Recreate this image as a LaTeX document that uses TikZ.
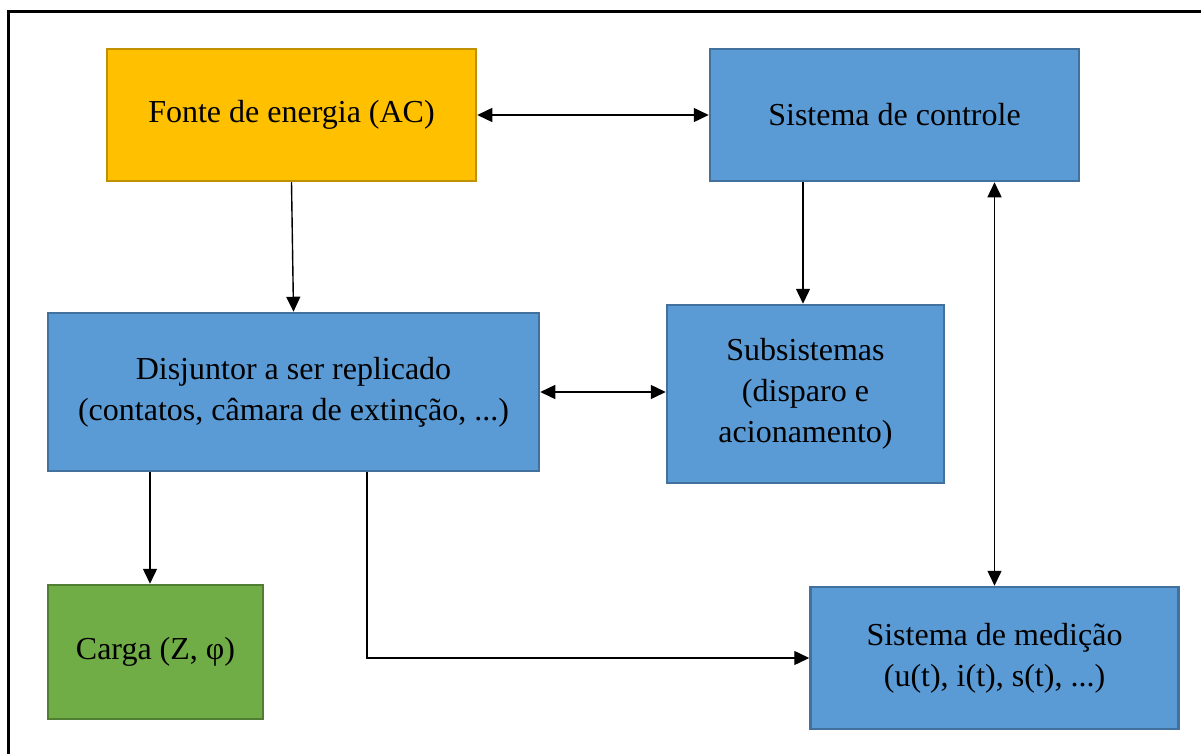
\documentclass[tikz,border=0pt]{standalone}
\usepackage{fontspec}
\setmainfont{Liberation Serif}
\usetikzlibrary{arrows.meta}
\definecolor{fillY}{HTML}{FFC000}
\definecolor{edgeY}{HTML}{BF9000}
\definecolor{fillB}{HTML}{5B9BD5}
\definecolor{edgeB}{HTML}{41719C}
\definecolor{fillG}{HTML}{70AD47}
\definecolor{edgeG}{HTML}{507E32}
\tikzset{
  blockbox/.style={rectangle, line width=2.5pt, inner sep=0pt, align=center,
    font=\fontsize{32}{41}\selectfont, text=black},
  yellowbox/.style={blockbox, fill=fillY, draw=edgeY},
  bluebox/.style={blockbox, fill=fillB, draw=edgeB},
  greenbox/.style={blockbox, fill=fillG, draw=edgeG},
  arr/.style={line width=1.4pt, -{Triangle[length=15pt,width=14pt]}},
  darr/.style={line width=1.4pt, {Triangle[length=15pt,width=14pt]}-{Triangle[length=15pt,width=14pt]}},
}
\begin{document}
\begin{tikzpicture}[x=1pt, y=-1pt]
  \useasboundingbox (0,0) rectangle (1201,754);
  % outer frame
  \draw[line width=3pt] (8,12) rectangle (1215,770);

  % blocks
  \node[yellowbox, minimum width=369pt, minimum height=132pt] (fonte) at (291.5,115) {Fonte de energia (AC)};
  \node[bluebox, minimum width=369pt, minimum height=132pt] (controle) at (894.5,115) {Sistema de controle};
  \node[bluebox, minimum width=491pt, minimum height=158pt] (disj) at (293.5,392) {Disjuntor a ser replicado\\(contatos, câmara de extinção, ...)};
  \node[bluebox, minimum width=277pt, minimum height=178pt] (subs) at (805.5,394) {Subsistemas\\(disparo e\\acionamento)};
  \node[greenbox, minimum width=215pt, minimum height=134pt] (carga) at (155.5,652) {Carga (Z, φ)};
  \node[bluebox, minimum width=368pt, minimum height=142pt] (med) at (994.5,658) {Sistema de medição\\(u(t), i(t), s(t), ...)};

  % connectors
  \draw[darr] (fonte.east) -- (controle.west);
  \draw[arr] (fonte.south) -- (disj.north);
  \draw[arr] ([xshift=-2.5pt]controle.south -| subs.north) -- ([xshift=-2.5pt]subs.north);
  \draw[darr] (controle.south -| med.north) -- (med.north);
  \draw[darr] (disj.east) -- (disj.east -| subs.west);
  \draw[arr] ([xshift=-5.5pt]disj.south -| carga.north) -- ([xshift=-5.5pt]carga.north);
  \draw[arr] ([xshift=73.5pt]disj.south) |- (med.west);
\end{tikzpicture}
\end{document}
